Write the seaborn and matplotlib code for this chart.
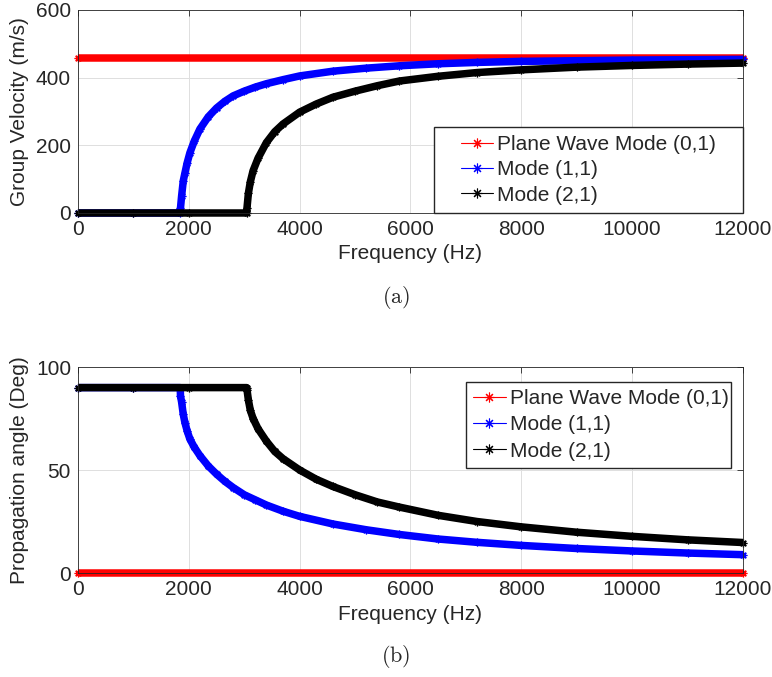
import matplotlib
matplotlib.use("Agg")
import matplotlib.pyplot as plt
import seaborn as sns
import pandas as pd
from matplotlib.lines import Line2D
from matplotlib.legend_handler import HandlerLine2D

# values
freq_00 = [0, 12000]
vel_00 = [458, 458]
ang_00 = [0, 0]

freq_11 = [0, 1000, 1845, 1850, 1870, 1900, 1930, 1970, 2020, 2100, 2200, 2350, 2500,
           2650, 2800, 3000, 3200, 3400, 3700, 4000, 4600, 5200, 5800, 6500, 7200,
           8000, 9000, 10000, 11000, 12000]
vel_11 = [0, 0, 0, 15, 50, 95, 118, 148, 178, 213, 248, 284, 310,
          330, 346, 360, 372, 382, 394, 405, 419, 428, 435, 441, 445,
          448, 450, 452, 453, 454]
ang_11 = [90, 90, 90, 86, 83, 77, 73, 69, 65, 61, 57, 52, 48,
          44.5, 41.5, 38, 35.5, 33, 30, 27.5, 23.8, 21, 18.7, 16.5, 14.9,
          13.4, 11.9, 10.7, 9.7, 8.9]

freq_21 = [0, 1000, 2000, 3045, 3050, 3075, 3110, 3160, 3250, 3400, 3550, 3700, 4000,
           4300, 4600, 5000, 5400, 5800, 6500, 7200, 8000, 9000, 10000, 11000, 12000]
vel_21 = [0, 0, 0, 0, 15, 58, 92, 125, 162, 208, 240, 263, 298,
          322, 342, 360, 376, 390, 404, 415, 423, 431, 436, 440, 443]
ang_21 = [90, 90, 90, 90, 89, 84, 79, 75, 70, 64, 59, 55.5, 50,
          45.5, 42, 38, 34.5, 32, 28, 25, 22.4, 19.8, 17.8, 16.1, 14.8]

labels = ["Plane Wave Mode (0,1)", "Mode (1,1)", "Mode (2,1)"]
colors = ["#ff0000", "#0000ff", "#000000"]
xticks = [0, 2000, 4000, 6000, 8000, 10000, 12000]

sns.set_style("white")
plt.rcParams["font.family"] = ["Liberation Sans", "DejaVu Sans"]
plt.rcParams["mathtext.fontset"] = "cm"
dark = "#262626"
fs = 15

fig = plt.figure(figsize=(7.72, 6.77), dpi=100)
ax1 = fig.add_axes([0.1010, 0.6854, 0.8614, 0.2999])
ax2 = fig.add_axes([0.1010, 0.1536, 0.8614, 0.3043])

star = (8, 2, 0)
series_top = [(freq_00, vel_00), (freq_11, vel_11), (freq_21, vel_21)]
series_bot = [(freq_00, ang_00), (freq_11, ang_11), (freq_21, ang_21)]

for ax, series in [(ax1, series_top), (ax2, series_bot)]:
    for (fx, fy), c in zip(series, colors):
        df = pd.DataFrame({"f": fx, "v": fy})
        sns.lineplot(data=df, x="f", y="v", ax=ax, color=c, lw=5.4,
                     marker=star, markersize=5.5, markeredgewidth=0.9,
                     markeredgecolor=c, sort=False, estimator=None,
                     solid_capstyle="butt", clip_on=False)
    ax.set_xlim(0, 12000)
    ax.set_xticks(xticks)
    ax.grid(True, color="#dfdfdf", lw=0.7)
    ax.tick_params(direction="in", top=True, right=True, length=4, width=0.6,
                   labelsize=fs, colors=dark, pad=5)
    for s in ax.spines.values():
        s.set_color(dark)
        s.set_linewidth(0.6)
    ax.set_xlabel("Frequency (Hz)", fontsize=fs, color=dark, labelpad=4)

ax1.set_ylim(0, 600)
ax1.set_yticks([0, 200, 400, 600])
ax1.set_ylabel("Group Velocity (m/s)", fontsize=fs, color=dark, labelpad=5)
ax2.set_ylim(0, 100)
ax2.set_yticks([0, 50, 100])
ax2.set_ylabel("Propagation angle (Deg)", fontsize=fs, color=dark, labelpad=5)

handles = [Line2D([], [], color=c, lw=0.8, marker=star, markersize=7,
                  markeredgewidth=0.8, markeredgecolor=c) for c in colors]

ax1.legend(handles, labels, loc="lower left", bbox_to_anchor=(0.535, 0.0, 0.465, 0.433),
           mode="expand", borderaxespad=0, fontsize=fs, frameon=True, fancybox=False,
           framealpha=1, edgecolor=dark, handlelength=2.45, handletextpad=0.2,
           labelspacing=0.3, borderpad=0.4,
           handler_map={h: HandlerLine2D(xpad=0.9) for h in handles})
ax2.legend(handles, labels, loc="lower left", bbox_to_anchor=(0.5835, 0.51, 0.3985, 0.422),
           mode="expand", borderaxespad=0, fontsize=fs, frameon=True, fancybox=False,
           framealpha=1, edgecolor=dark, handlelength=1.55, handletextpad=0.2,
           labelspacing=0.35, borderpad=0.35)

fig.text(0.513, 0.561, r"$\mathrm{(a)}$", fontsize=16, ha="center", va="center")
fig.text(0.513, 0.030, r"$\mathrm{(b)}$", fontsize=16, ha="center", va="center")

fig.savefig("out.png", dpi=100)
